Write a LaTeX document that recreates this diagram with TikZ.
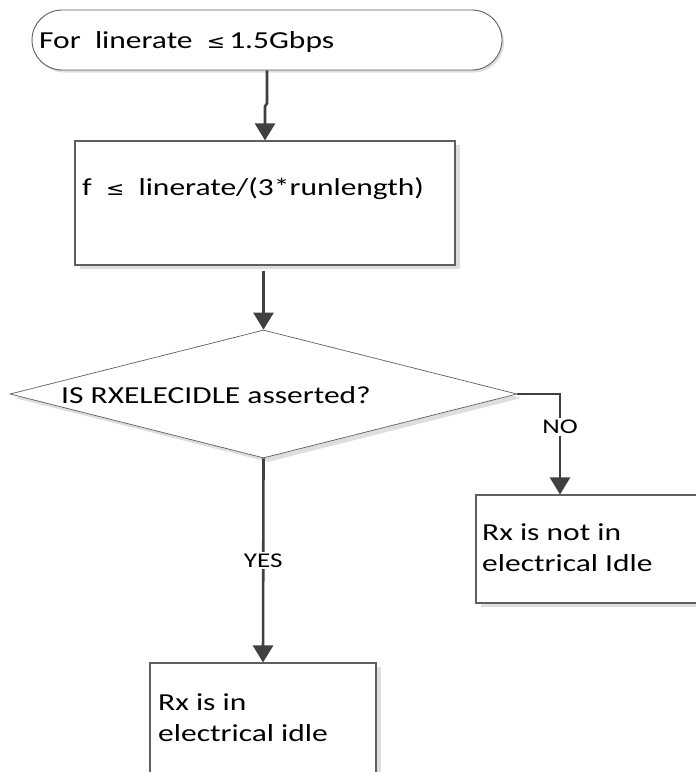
\documentclass[tikz,border=0pt]{standalone}
\usepackage{fontspec}
\setmainfont{Carlito}[FakeStretch=1.29]
\newfontfamily\symfont{DejaVu Sans}[FakeStretch=1.15]
\usetikzlibrary{arrows.meta,shapes.geometric,shadows,calc}

\definecolor{edgegray}{HTML}{5F5F5F}
\definecolor{flowgray}{HTML}{404040}
\definecolor{shadegray}{HTML}{DEDEDE}

\tikzset{
  boxshadow/.style={drop shadow={shadow xshift=4.5pt, shadow yshift=-4pt, fill=shadegray, opacity=1}},
  pill/.style={draw=edgegray, line width=0.9pt, fill=white, rounded corners=30pt,
    minimum width=470pt, minimum height=60pt, inner sep=0pt,
    drop shadow={shadow xshift=2pt, shadow yshift=-2.5pt, fill=shadegray, opacity=1}},
  procbox/.style={draw=edgegray, line width=1.1pt, fill=white, inner sep=0pt, boxshadow},
  decision/.style={diamond, draw=edgegray, line width=0.7pt, fill=white, inner sep=0pt,
    aspect=3.96, minimum width=507pt, minimum height=128pt, boxshadow},
  txt/.style={anchor=base west, inner sep=0pt, align=left,
    font=\fontsize{24.4}{31.5}\selectfont},
  lbl/.style={fill=white, inner sep=2pt, font=\fontsize{21}{24}\selectfont},
  flow/.style={draw=flowgray, line width=2.6pt,
    -{Triangle[width=20pt,length=17pt]}},
}
\newcommand{\leqsym}{{\symfont\fontsize{19}{22}\selectfont ≤}}

\begin{document}
\begin{tikzpicture}[x=1pt,y=-1pt]
  \useasboundingbox (0,0) rectangle (696,772);
  \clip (0,0) rectangle (696,772);

  % shapes
  \node[pill] (start) at (267,40) {};
  \node[procbox, minimum width=380pt, minimum height=124pt] (rate) at (265,203) {};
  \node[decision] (idle) at (263.5,394) {};
  \node[procbox, minimum width=244pt, minimum height=108pt] (notidle) at (598,549) {};
  \node[procbox, minimum width=226pt, minimum height=157pt] (isidle) at (263,741.5) {};

  % texts (two-line nodes sit on the baseline of their last line)
  \node[txt] (starttxt) at (39,48) {For\ \ linerate \ \leqsym\,1.5Gbps};
  \node[txt] (ratetxt) at (82,195) {f \ \leqsym\ \ linerate/(3*runlength)};
  \node[txt] (idletxt) at (61,403) {IS RXELECIDLE asserted?};
  \node[txt] (notidletxt) at (482,571.5) {Rx is not in\\electrical Idle};
  \node[txt] (isidletxt) at (158,741.5) {Rx is in\\electrical idle};

  % connectors
  \draw[flow] (start.south) -- ++(0,33) -- ++(-2,3) -- (rate.north);
  \draw[flow] ([yshift=-5pt]rate.south -| idle.north) -- (idle.north);
  \coordinate (nobend) at (560,394);
  \draw[flow] (idle.east) -- (nobend) -- (nobend |- notidle.north)
    node[lbl, pos=0.33] (nolbl) {NO};
  \draw[flow] (idle.south) -- (isidle.north)
    node[lbl, pos=0.5] (yeslbl) {YES};
\end{tikzpicture}
\end{document}
